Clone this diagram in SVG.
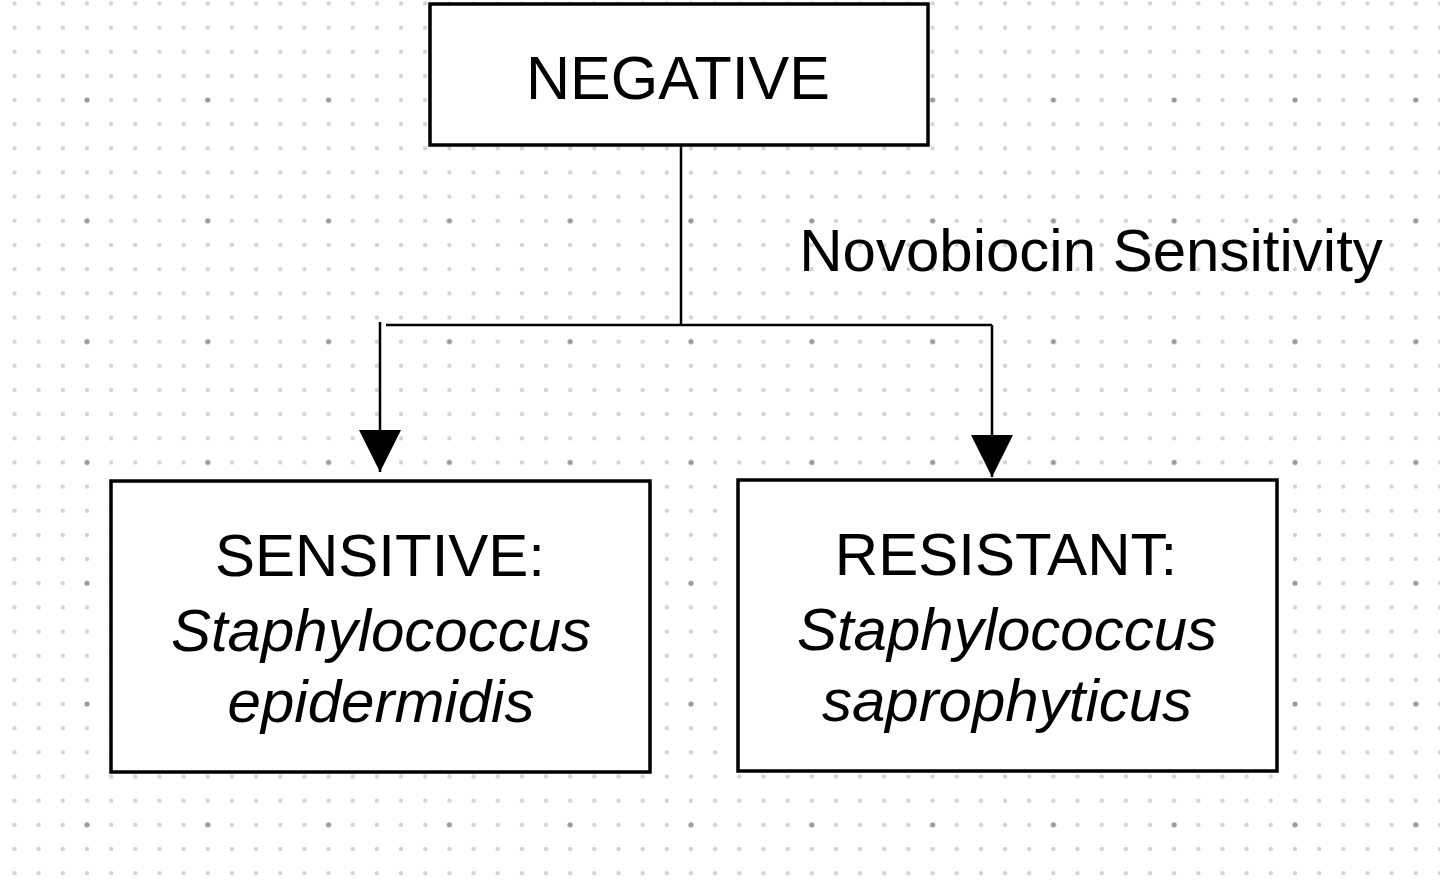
<svg xmlns="http://www.w3.org/2000/svg" width="1440" height="887" viewBox="0 0 1440 887">
<defs>
<pattern id="minor" x="14.5" y="3.4" width="24.16" height="24.16" patternUnits="userSpaceOnUse">
<circle cx="0" cy="0" r="2.2" fill="#d3d3d3"/>
<circle cx="24.16" cy="0" r="2.2" fill="#d3d3d3"/>
<circle cx="0" cy="24.16" r="2.2" fill="#d3d3d3"/>
<circle cx="24.16" cy="24.16" r="2.2" fill="#d3d3d3"/>
</pattern>
<pattern id="major" x="87" y="100" width="120.8" height="120.8" patternUnits="userSpaceOnUse">
<circle cx="0" cy="0" r="2.6" fill="#9a9a9a"/>
<circle cx="120.8" cy="0" r="2.6" fill="#9a9a9a"/>
<circle cx="0" cy="120.8" r="2.6" fill="#9a9a9a"/>
<circle cx="120.8" cy="120.8" r="2.6" fill="#9a9a9a"/>
</pattern>
<marker id="arrow" markerUnits="userSpaceOnUse" markerWidth="44" markerHeight="46" refX="42" refY="22" orient="auto" viewBox="0 0 44 44">
<path d="M0,1 L42,22 L0,43 Z" fill="#000"/>
</marker>
</defs>
<style>
.box{fill:#fff;stroke:#000;stroke-width:3.5}
.t{font-family:"Liberation Sans",Arial,sans-serif;fill:#000;text-anchor:middle}
.i{font-style:italic}
.conn{fill:none;stroke:#000;stroke-width:2.5}
</style>
<rect width="1440" height="887" fill="#fff"/>
<rect width="1440" height="887" fill="url(#minor)"/>
<rect width="1440" height="887" fill="url(#major)"/>
<g id="connectors">
<path class="conn" d="M681,145 L681,325"/>
<path class="conn" d="M386,325 L992,325"/>
<path class="conn" d="M380,322 L380,472" marker-end="url(#arrow)"/>
<path class="conn" d="M992,325 L992,477" marker-end="url(#arrow)"/>
<text class="t" x="1091" y="271" font-size="60">Novobiocin Sensitivity</text>
</g>
<g id="negative">
<rect class="box" x="430" y="4" width="498" height="141"/>
<text class="t" x="678" y="99" font-size="61">NEGATIVE</text>
</g>
<g id="sensitive">
<rect class="box" x="111" y="481" width="539" height="291"/>
<text class="t" x="380" y="576" font-size="60">SENSITIVE:</text>
<text class="t i" x="381" y="651" font-size="60">Staphylococcus</text>
<text class="t i" x="381" y="722" font-size="60">epidermidis</text>
</g>
<g id="resistant">
<rect class="box" x="738" y="480" width="539" height="291"/>
<text class="t" x="1006" y="575" font-size="60">RESISTANT:</text>
<text class="t i" x="1007" y="650" font-size="60">Staphylococcus</text>
<text class="t i" x="1007" y="721" font-size="60">saprophyticus</text>
</g>
</svg>
